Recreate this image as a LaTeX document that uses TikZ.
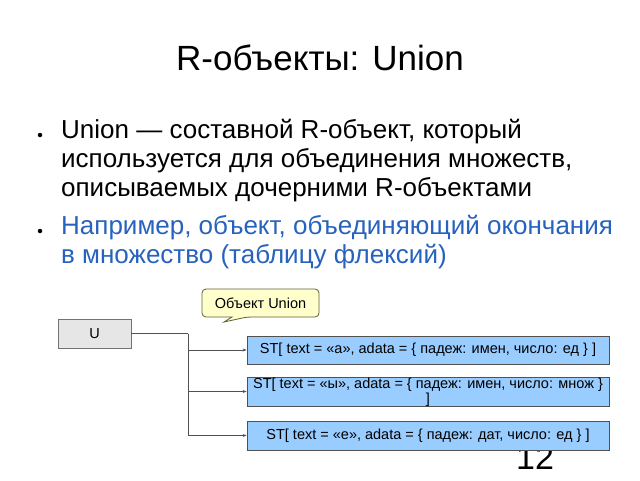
\documentclass[tikz,border=0pt]{standalone}
\usepackage{fontspec}
\setmainfont{Liberation Sans}
\usetikzlibrary{arrows.meta}
\definecolor{bluetext}{RGB}{38,98,190}
\definecolor{stfill}{RGB}{153,204,255}
\definecolor{ufill}{RGB}{230,230,230}
\definecolor{callfill}{RGB}{255,255,204}
\definecolor{lineg}{RGB}{80,80,80}
\tikzset{
  stbox/.style={draw=lineg, fill=stfill, line width=0.8pt, minimum width=362pt, minimum height=28pt, inner sep=0pt, font=\fontsize{14.5}{15.5}\selectfont},
  ubox/.style={draw=lineg!80, fill=ufill, line width=0.8pt, minimum width=73pt, minimum height=29pt, inner sep=0pt, font=\fontsize{14.5}{15}\selectfont},
  conn/.style={draw=lineg, line width=0.8pt},
  arr/.style={conn, -{Stealth[length=4pt,width=3pt]}},
  bul/.style={circle, fill=black, inner sep=0pt, minimum size=4.5pt},
  btext/.style={anchor=base west, inner sep=0pt, font=\fontsize{26}{29}\selectfont},
}
\begin{document}
\begin{tikzpicture}[x=1pt,y=-1pt]
\useasboundingbox (0,0) rectangle (640,480);
\node[font=\fontsize{35}{38}\selectfont] (title) at (320,58) {R-объекты: Union};
\node[bul] (b1) at (40,135) {};
\node[bul] (b2) at (40,231) {};
\node[btext] (t1a) at (61,138) {Union — составной R-объект, который};
\node[btext] (t1b) at (61,167) {используется для объединения множеств,};
\node[btext] (t1c) at (61,196) {описываемых дочерними R-объектами};
\node[btext, text=bluetext] (t2a) at (61,234) {Например, объект, объединяющий окончания};
\node[btext, text=bluetext] (t2b) at (61,263) {в множество (таблицу флексий)};
\node[font=\fontsize{34}{36}\selectfont, anchor=base] (num) at (535,469) {12};
\node[ubox] (U) at (94.5,333.5) {U};
% callout
\draw[draw=lineg!70!olive, fill=callfill, line width=0.8pt, rounded corners=4pt]
  (202,289) -- (319,289) -- (319,317) -- (247,317) [sharp corners] -- (224,322) -- (232,317) [rounded corners=4pt] -- (202,317) -- cycle;
\node[font=\fontsize{14.5}{15}\selectfont] (call) at (260.5,303) {Объект Union};
\node[stbox] (st1) at (428,350) {ST[ text = «а», adata = \{ падеж: имен, число: ед \} ]};
\node[stbox, minimum height=29pt] (st2) at (428,391.5) {};
\node[font=\fontsize{14.5}{15}\selectfont, align=center, inner sep=0pt, anchor=north] (st2t) at ([yshift=-1pt]st2.north) {ST[ text = «ы», adata = \{ падеж: имен, число: множ \}\\]};
\node[stbox, minimum height=29pt] (st3) at (428,435.5) {ST[ text = «е», adata = \{ падеж: дат, число: ед \} ]};
\coordinate (j) at (188,333.5);
\draw[conn] (U.east) -- (j);
\draw[arr] (j) |- (st1.west);
\draw[arr] (j) |- (st2.west);
\draw[arr] (j) |- (st3.west);
\end{tikzpicture}
\end{document}
